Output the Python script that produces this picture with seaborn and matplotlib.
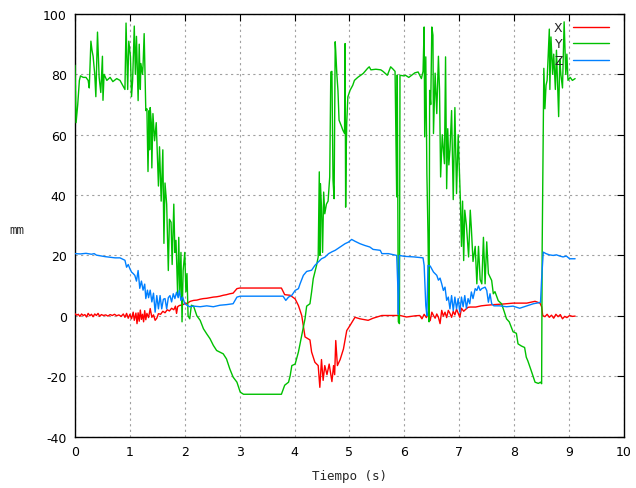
import numpy as np
import pandas as pd
import matplotlib
matplotlib.use("Agg")
import matplotlib.pyplot as plt
import seaborn as sns

# ---------------- data ----------------
x_t = [0.00,0.03,0.06,0.09,0.12,0.15,0.18,0.21,0.24,0.27,0.30,0.33,0.36,0.39,0.42,0.45,0.48,0.52,0.56,0.60,
       0.64,0.68,0.72,0.76,0.80,0.84,0.88,0.91,0.94,0.97,1.00,1.03,1.06,1.08,1.11,1.13,1.15,1.17,1.19,1.21,
       1.23,1.25,1.27,1.29,1.31,1.34,1.37,1.40,1.43,1.46,1.49,1.52,1.56,1.60,1.64,1.68,1.72,1.76,1.80,1.83,
       1.85,1.87,1.90,1.95,2.00,2.05,2.10,2.16,2.22,2.28,2.34,2.40,2.46,2.52,2.58,2.64,2.70,2.76,2.82,2.88,
       2.95,3.00,3.76,3.82,3.92,4.01,4.07,4.13,4.19,4.28,4.31,4.37,4.43,4.46,4.49,4.52,4.55,4.59,4.63,4.68,
       4.71,4.73,4.75,4.78,4.83,4.89,4.92,4.95,5.01,5.10,5.19,5.34,5.43,5.59,5.74,5.92,6.04,6.20,6.28,6.32,
       6.36,6.40,6.44,6.47,6.50,6.53,6.56,6.59,6.62,6.65,6.68,6.71,6.74,6.77,6.80,6.83,6.86,6.89,6.92,6.95,
       6.98,7.01,7.04,7.08,7.12,7.16,7.20,7.30,7.40,7.50,7.63,7.80,7.98,8.23,8.38,8.47,8.50,8.52,8.56,8.60,
       8.64,8.68,8.72,8.76,8.80,8.84,8.88,8.92,8.96,9.01,9.06,9.11]
x_v = [0.7,0.2,0.5,-0.2,0.6,0.1,0.4,-0.4,0.8,0.0,0.5,-0.3,0.6,0.1,0.8,-0.2,0.4,0.1,0.3,-0.1,
       0.4,0.1,0.5,0.0,0.3,-0.2,0.6,-0.5,0.8,-0.8,0.5,-1.0,1.2,-1.5,0.9,-2.6,1.0,-1.8,1.9,-1.2,
       0.5,-2.0,1.7,-1.3,0.8,-0.6,2.4,-0.5,0.3,-1.5,-0.8,0.7,0.5,1.5,1.0,2.0,1.6,2.5,2.0,3.2,
       0.8,3.0,3.4,3.6,4.0,4.2,4.8,5.1,5.2,5.5,5.7,5.8,6.0,6.2,6.3,6.5,6.8,7.0,7.3,7.5,
       9.0,9.2,9.2,7.0,6.8,5.6,3.4,0.1,-7.0,-8.0,-12.0,-15.4,-16.5,-23.7,-14.5,-21.4,-16.5,-19.5,-16.0,-21.8,
       -16.5,-19.5,-8.2,-16.5,-14.5,-11.0,-8.0,-4.9,-3.2,-0.5,-1.0,-1.5,-0.8,0.1,0.1,0.1,-0.4,0.0,0.1,-1.0,
       0.5,-0.6,1.0,-1.6,1.2,0.1,-0.8,0.6,-0.5,-2.6,1.8,-0.1,1.2,-0.6,1.8,0.8,-0.5,1.5,0.3,2.2,
       0.8,-0.5,2.5,1.5,2.2,2.8,2.9,2.9,3.3,3.5,3.7,3.9,4.2,4.2,4.8,4.2,3.0,0.1,-0.3,0.5,
       -0.5,0.2,-0.8,0.5,-0.3,0.4,-1.0,-0.2,-0.6,0.1,-0.2,-0.1]

y_t = [0.00,0.02,0.05,0.08,0.10,0.15,0.20,0.24,0.26,0.29,0.31,0.33,0.36,0.38,0.41,0.44,0.47,0.50,0.51,0.53,
       0.58,0.64,0.69,0.76,0.82,0.88,0.91,0.93,0.96,0.98,1.01,1.03,1.05,1.08,1.10,1.12,1.15,1.17,1.19,1.20,
       1.23,1.24,1.26,1.29,1.31,1.33,1.35,1.36,1.37,1.39,1.40,1.42,1.45,1.48,1.52,1.54,1.57,1.60,1.62,1.64,
       1.67,1.70,1.72,1.75,1.77,1.80,1.82,1.84,1.87,1.89,1.91,1.93,1.95,1.97,2.00,2.02,2.04,2.06,2.09,2.12,
       2.16,2.22,2.28,2.34,2.40,2.46,2.52,2.58,2.70,2.76,2.82,2.88,2.95,3.01,3.07,3.76,3.82,3.89,3.92,3.95,
       4.01,4.07,4.13,4.19,4.22,4.28,4.31,4.34,4.37,4.40,4.43,4.45,4.46,4.47,4.49,4.51,4.53,4.55,4.58,4.61,
       4.64,4.66,4.68,4.70,4.72,4.74,4.75,4.77,4.79,4.81,4.85,4.88,4.91,4.92,4.93,4.94,4.95,4.97,5.01,5.06,
       5.09,5.15,5.25,5.33,5.36,5.39,5.48,5.57,5.61,5.69,5.75,5.79,5.83,5.84,5.86,5.87,5.89,5.91,5.92,5.99,
       6.02,6.08,6.19,6.25,6.31,6.34,6.36,6.37,6.39,6.41,6.43,6.45,6.46,6.48,6.50,6.52,6.53,6.56,6.59,6.62,
       6.64,6.66,6.69,6.73,6.75,6.77,6.79,6.81,6.83,6.86,6.89,6.92,6.95,6.98,7.02,7.04,7.06,7.08,7.10,7.13,
       7.17,7.20,7.22,7.25,7.29,7.32,7.35,7.38,7.41,7.44,7.47,7.50,7.53,7.59,7.62,7.65,7.71,7.77,7.82,7.86,
       7.91,7.98,8.04,8.07,8.13,8.19,8.22,8.25,8.32,8.38,8.44,8.48,8.50,8.51,8.53,8.54,8.56,8.58,8.60,8.64,
       8.65,8.67,8.70,8.72,8.75,8.77,8.81,8.83,8.85,8.88,8.91,8.94,8.96,8.98,9.02,9.06,9.11]
y_v = [83,64,70,78,79.5,79,79,78,75.5,91,88,86,80,72.6,94,79,74,86,71.4,80,
       78,79,77.6,78.6,78,76,75,97,75,91,86,72.6,78,96,80,92.6,71.3,90,75,83.6,
       80,83,93.5,68,68.6,47.8,68,55,69,64,49,67,58,64,43,56,38,55,24,44,
       37,15,32,31,17,37,21,25,7,26,7,21,-2,15,21,8,14,0,-1,3.5,
       3.2,0,-1.5,-4.3,-6,-7.6,-9.8,-11.5,-12.6,-14.3,-17.6,-20.3,-22,-25.3,-26,-26,-23,-22,-19.8,-16.5,
       -16,-12,-6.5,-1,3.2,4,7.9,12.3,14.5,16.7,19.5,47.7,20,43.8,36,21,41,33.8,37,38,
       46,80.8,81,45,38.8,90.8,87.5,80,74.7,64.8,63,61.5,60.4,90.2,36,53.7,64,72.5,74.7,76.4,
       78,79,80.3,82,82.5,81.5,81.7,81.5,81,79.7,82.5,81.8,81,67,39.4,79.8,-2,-2.6,79.7,79.5,
       79.7,79,80.5,80.8,78.6,81,95.7,59.3,85.8,47,27,-2,74.7,70,95.7,93,60.4,80.4,67,86,
       75,46,60,50.4,85.8,42.1,62,50,55,68,38.5,69,40.5,60,38.3,23,38,18.3,35,30,
       19.5,35,29,18,23,10.6,23,12,10.6,26,10.6,24.5,14,11.7,7.3,8,5,4,1.3,-1,
       -2,-5.3,-5.8,-9.3,-10,-10.5,-13.7,-15,-18.7,-22,-22.4,-22,-22.5,23,63.7,82,68.6,76.4,78,95,
       75,92.4,80,86.7,75,88,66,85,80,75.5,97.4,80,86.7,78,79,78,78.6]

z_t = [0.00,0.10,0.20,0.30,0.35,0.39,0.45,0.55,0.64,0.73,0.82,0.91,0.94,0.97,1.00,1.03,1.06,1.09,1.12,1.15,
       1.18,1.21,1.24,1.27,1.29,1.32,1.34,1.37,1.40,1.43,1.46,1.49,1.52,1.55,1.58,1.61,1.64,1.67,1.70,1.73,
       1.76,1.79,1.82,1.85,1.88,1.90,1.93,1.96,2.00,2.04,2.09,2.16,2.28,2.40,2.52,2.64,2.76,2.88,2.95,3.01,
       3.79,3.84,3.89,3.95,4.01,4.07,4.10,4.16,4.22,4.31,4.37,4.43,4.49,4.55,4.62,4.68,4.74,4.83,4.92,4.98,
       5.04,5.10,5.19,5.28,5.37,5.43,5.56,5.59,5.71,5.86,5.88,5.89,5.91,6.00,6.18,6.34,6.36,6.39,6.41,6.43,
       6.47,6.53,6.59,6.62,6.65,6.68,6.71,6.74,6.77,6.80,6.83,6.86,6.89,6.92,6.95,6.98,7.01,7.04,7.07,7.10,
       7.13,7.16,7.19,7.22,7.25,7.29,7.32,7.35,7.38,7.41,7.47,7.50,7.53,7.56,7.59,7.63,7.74,7.86,7.98,8.10,
       8.23,8.35,8.44,8.48,8.50,8.53,8.58,8.64,8.71,8.77,8.83,8.89,8.95,9.01,9.11]
z_v = [20.6,20.5,20.7,20.4,20.6,20.1,19.9,19.6,19.4,19.2,19.2,18.4,16.1,17.0,15.6,14.5,14.0,13.4,11.5,15.0,
       9.1,11.5,8.5,10.5,5.7,8.5,6.0,8.5,4.6,7.5,1.2,6.7,2.3,6.7,2.3,5.5,5.7,2.3,6.0,6.7,
       4.6,7.3,5.7,7.8,6.0,8.4,5.1,6.2,4.0,3.5,3.0,3.2,3.0,3.3,3.0,3.5,3.7,4.0,6.2,6.5,
       6.5,5.1,6.2,6.8,8.4,9.0,10.6,13.4,14.7,15.1,16.7,17.8,18.9,19.4,20.6,21.2,21.7,22.8,23.9,24.4,
       25.3,24.7,23.9,23.3,22.8,22.0,21.7,20.6,20.6,20.0,10.0,0.5,20.0,19.7,19.5,19.2,16.7,3.4,0.0,16.7,
       16.5,14.5,13.4,11.8,12.5,10.6,8.4,9.5,5.1,6.2,2.3,6.7,1.7,6.2,2.3,5.7,1.2,6.2,3.0,6.7,
       2.5,5.7,4.0,7.9,5.7,9.0,8.4,9.9,8.4,9.0,9.5,8.4,4.5,7.3,4.0,3.3,3.3,3.0,3.2,2.5,
       3.3,4.0,4.3,4.5,12.3,21.1,20.6,20.2,20.0,20.2,19.8,19.5,19.8,18.9,18.9]

series_names = ["X", "Y", "Z"]
series_colors = ["#ff0000", "#00c000", "#0080ff"]
x_ticks = [0, 1, 2, 3, 4, 5, 6, 7, 8, 9, 10]
y_ticks = [-40, -20, 0, 20, 40, 60, 80, 100]

# ---------------- plot ----------------
sns.set_style("white")
plt.rcParams["font.family"] = ["DejaVu Sans"]

fig = plt.figure(figsize=(6.36, 4.89), dpi=100)
ax = fig.add_axes([0.1179, 0.1053, 0.8632, 0.8640])

frames = [pd.DataFrame({"t": x_t, "v": x_v}),
          pd.DataFrame({"t": y_t, "v": y_v}),
          pd.DataFrame({"t": z_t, "v": z_v})]
for df, name, col in zip(frames, series_names, series_colors):
    sns.lineplot(data=df, x="t", y="v", ax=ax, color=col, linewidth=1.0,
                 estimator=None, sort=False, label=name, zorder=3)

ax.set_xlim(0, 10)
ax.set_ylim(-40, 100)
ax.set_xticks(x_ticks)
ax.set_yticks(y_ticks)
ax.set_xticklabels([str(v) for v in x_ticks], fontsize=9)
ax.set_yticklabels([str(v) for v in y_ticks], fontsize=9)
ax.tick_params(direction="in", length=5, width=0.8, top=True, right=True,
               colors="black", pad=6)
ax.grid(True, color="#a0a0a0", linestyle=(0, (2, 3)), linewidth=0.8, zorder=0)
ax.set_axisbelow(True)
for s in ax.spines.values():
    s.set_color("black")
    s.set_linewidth(1.0)
    s.set_visible(True)

ax.set_xlabel("Tiempo (s)", fontsize=9, family="DejaVu Sans Mono", labelpad=8)
ax.set_ylabel("mm", fontsize=9, family="DejaVu Sans Mono", rotation=0,
              va="center", ha="center")
ax.yaxis.set_label_coords(-0.1065, 0.49)

leg = ax.legend(loc="upper right", bbox_to_anchor=(1.0, 1.019), frameon=False,
                markerfirst=False, fontsize=9, handlelength=2.9,
                handletextpad=0.8, labelspacing=0.28, borderaxespad=0.9,
                borderpad=0.3)

fig.savefig("out.png", dpi=100)
